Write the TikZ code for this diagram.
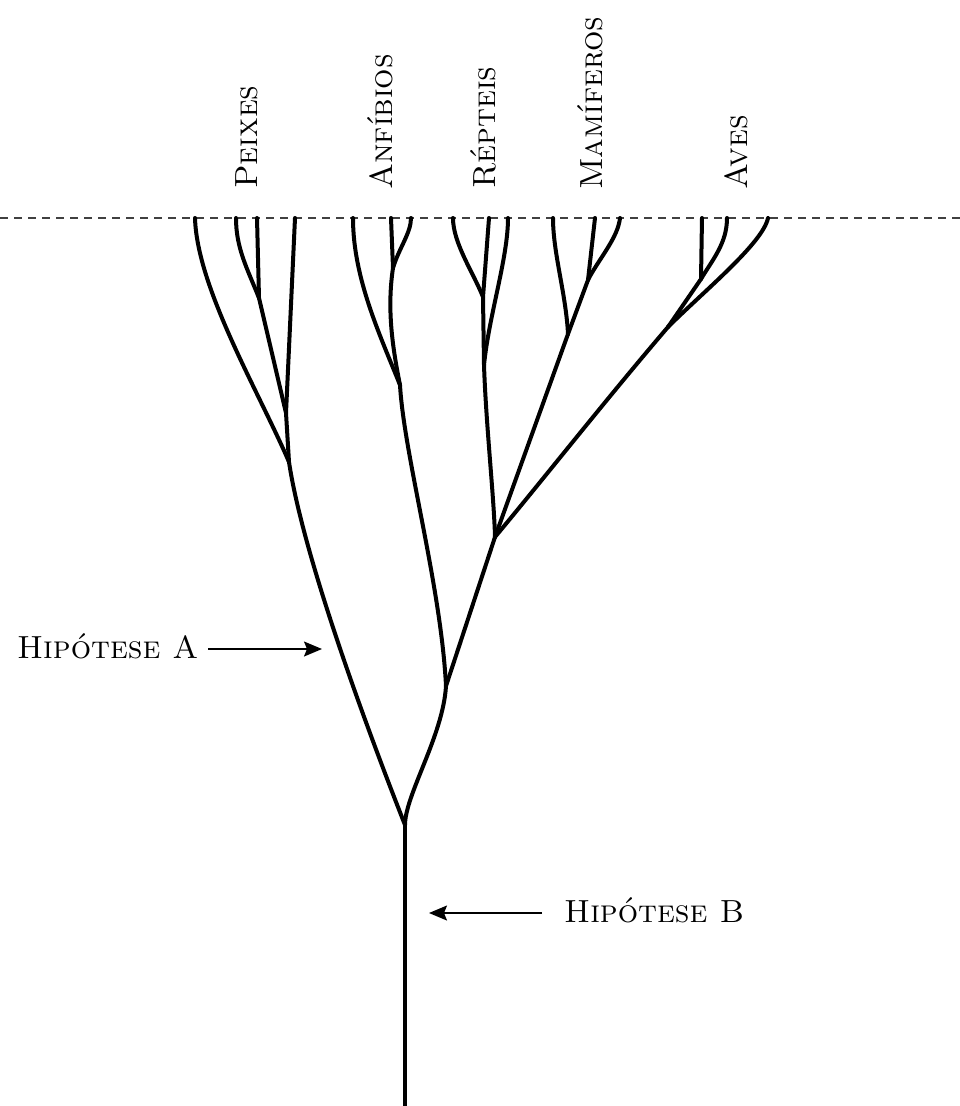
\documentclass[tikz,border=0pt]{standalone}
\usetikzlibrary{arrows.meta}

\begin{document}
\begin{tikzpicture}[x=1pt,y=-1pt,
  branch/.style={line width=4pt,line cap=round,line join=round},
  pointer/.style={line width=1.5pt,-{Stealth[length=18pt,width=15pt,inset=3pt]}},
  horizon/.style={line width=1.4pt,draw=black!75,dash pattern=on 8pt off 6pt},
  taxon/.style={rotate=90,anchor=base west,inner sep=0pt,font=\fontsize{32}{32}\selectfont\scshape},
  hyp/.style={anchor=base west,inner sep=0pt,font=\fontsize{32}{32}\selectfont\scshape}]
\useasboundingbox (0,0) rectangle (960,1106);

% present-day line
\coordinate (hl) at (0,218);
\coordinate (hr) at (960,218);
\draw[horizon] (hl) -- (hr);

% group names
\node[taxon] (tP) at (257,189) {Peixes};
\node[taxon] (tA) at (392,190) {Anfíbios};
\node[taxon] (tR) at (495,189) {Répteis};
\node[taxon] (tM) at (602,190) {Mamíferos};
\node[taxon] (tV) at (747,190) {Aves};

% branch tips
\coordinate (p1) at (195,218); \coordinate (p2) at (236,218);
\coordinate (p3) at (257,218); \coordinate (p4) at (295,218);
\coordinate (a1) at (353,218); \coordinate (a2) at (391,218);
\coordinate (a3) at (411,218);
\coordinate (r1) at (453,218); \coordinate (r2) at (489,218);
\coordinate (r3) at (508,218);
\coordinate (m1) at (553,218); \coordinate (m2) at (595,218);
\coordinate (m3) at (620,218);
\coordinate (v1) at (702,218); \coordinate (v2) at (727,218);
\coordinate (v3) at (768,218);

% branching points
\coordinate (P23) at (259,298); \coordinate (P234) at (286,413);
\coordinate (P) at (289,462);
\coordinate (A23) at (393,268); \coordinate (A) at (400,385);
\coordinate (R12) at (483,297); \coordinate (R) at (484,365);
\coordinate (M23) at (588,280); \coordinate (M) at (568,334);
\coordinate (V12) at (701,279); \coordinate (V) at (668,327);
\coordinate (RMV) at (495,537);
\coordinate (AR) at (446,686);
\coordinate (J) at (405,825);
\coordinate (base) at (405,1106);

% fishes
\draw[branch] (p1) .. controls +(2,70) and +(-30,-70) .. (P);
\draw[branch] (p2) .. controls +(0,30) and +(-12,-30) .. (P23);
\draw[branch] (p3) -- (P23);
\draw[branch] (P23) -- (P234);
\draw[branch] (p4) -- (P234);
\draw[branch] (P234) -- (P);
\draw[branch] (P) .. controls +(12,80) and +(-55,-140) .. (J);

% amphibians
\draw[branch] (a1) .. controls +(0,60) and +(-20,-50) .. (A);
\draw[branch] (a2) -- (A23);
\draw[branch] (a3) .. controls +(0,15) and +(6,-20) .. (A23);
\draw[branch] (A23) .. controls +(-6,40) and +(-8,-40) .. (A);
\draw[branch] (A) .. controls +(4,70) and +(-5,-100) .. (AR);

% reptiles
\draw[branch] (r1) .. controls +(0,25) and +(-10,-25) .. (R12);
\draw[branch] (r2) -- (R12);
\draw[branch] (r3) .. controls +(0,40) and +(5,-50) .. (R);
\draw[branch] (R12) -- (R);
\draw[branch] (R) .. controls +(2,60) and +(-1,-40) .. (RMV);

% mammals
\draw[branch] (m1) .. controls +(0,35) and +(-2,-40) .. (M);
\draw[branch] (m2) -- (M23);
\draw[branch] (m3) .. controls +(-2,20) and +(10,-20) .. (M23);
\draw[branch] (M23) -- (M);
\draw[branch] (M) -- (RMV);

% birds
\draw[branch] (v1) -- (V12);
\draw[branch] (v2) .. controls +(0,25) and +(12,-20) .. (V12);
\draw[branch] (V12) -- (V);
\draw[branch] (v3) .. controls +(-5,25) and +(35,-35) .. (V);
\draw[branch] (V) .. controls +(-60,70) and +(50,-60) .. (RMV);

% lower stems and trunk
\draw[branch] (RMV) -- (AR);
\draw[branch] (AR) .. controls +(-3,50) and +(0,-30) .. (J);
\draw[branch] (J) -- (base);

% hypotheses
\node[hyp] (hA) at (17,658) {Hipótese A};
\coordinate (tailA) at (208,649); \coordinate (tipA) at (322,649);
\draw[pointer] (tailA) -- (tipA);

\node[hyp] (hB) at (564,922) {Hipótese B};
\coordinate (tailB) at (542,913); \coordinate (tipB) at (429,913);
\draw[pointer] (tailB) -- (tipB);
\end{tikzpicture}
\end{document}
